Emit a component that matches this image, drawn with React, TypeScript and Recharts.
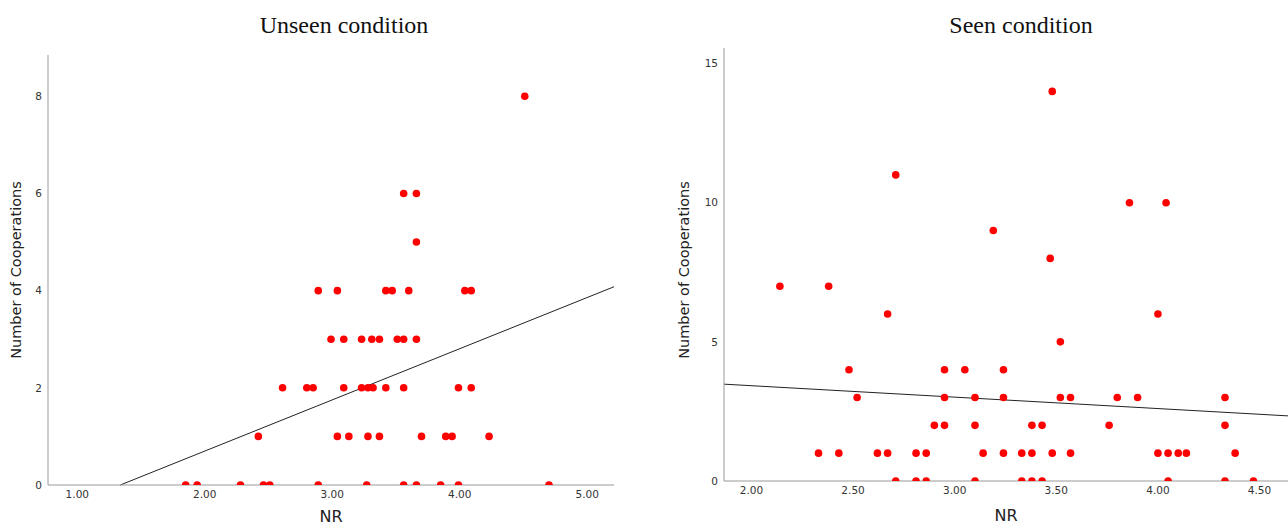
import React from "react";
import {
  ScatterChart,
  Scatter,
  XAxis,
  YAxis,
  ReferenceLine,
} from "recharts";

// Unseen condition: NR score vs number of cooperations
const unseenNR = [
  1.85, 1.94, 2.28, 2.46, 2.51, 2.89, 3.27, 3.56, 3.66, 3.85, 3.99, 4.7,
  2.42, 3.04, 3.13, 3.28, 3.37, 3.7, 3.89, 3.94, 4.23,
  2.61, 2.8, 2.85, 3.09, 3.23, 3.28, 3.32, 3.42, 3.56, 3.99, 4.09,
  2.99, 3.09, 3.23, 3.31, 3.37, 3.51, 3.56, 3.66,
  2.89, 3.04, 3.42, 3.47, 3.6, 4.04, 4.09,
  3.66,
  3.56, 3.66,
  4.51,
];
const unseenCoop = [
  0, 0, 0, 0, 0, 0, 0, 0, 0, 0, 0, 0,
  1, 1, 1, 1, 1, 1, 1, 1, 1,
  2, 2, 2, 2, 2, 2, 2, 2, 2, 2, 2,
  3, 3, 3, 3, 3, 3, 3, 3,
  4, 4, 4, 4, 4, 4, 4,
  5,
  6, 6,
  8,
];
const unseenFitX = [1.337, 5.21];
const unseenFitY = [0, 4.08];
const unseenXTicks = [1, 2, 3, 4, 5];
const unseenYTicks = [0, 2, 4, 6, 8];

// Seen condition
const seenNR = [
  2.71, 2.81, 2.86, 3.1, 3.33, 3.38, 3.43, 4.05, 4.33, 4.47,
  2.33, 2.43, 2.62, 2.67, 2.81, 2.86, 3.14, 3.24, 3.33, 3.38, 3.48, 3.57, 4.0, 4.05, 4.1, 4.14, 4.38,
  2.9, 2.95, 3.1, 3.38, 3.43, 3.76, 4.33,
  2.52, 2.95, 3.1, 3.24, 3.52, 3.57, 3.8, 3.9, 4.33,
  2.48, 2.95, 3.05, 3.24,
  3.52,
  2.67, 4.0,
  2.14, 2.38,
  3.47,
  3.19,
  3.86, 4.04,
  2.71,
  3.48,
];
const seenCoop = [
  0, 0, 0, 0, 0, 0, 0, 0, 0, 0,
  1, 1, 1, 1, 1, 1, 1, 1, 1, 1, 1, 1, 1, 1, 1, 1, 1,
  2, 2, 2, 2, 2, 2, 2,
  3, 3, 3, 3, 3, 3, 3, 3, 3,
  4, 4, 4, 4,
  5,
  6, 6,
  7, 7,
  8,
  9,
  10, 10,
  11,
  14,
];
const seenFitX = [1.865, 4.64];
const seenFitY = [3.48, 2.34];
const seenXTicks = [2, 2.5, 3, 3.5, 4, 4.5];
const seenYTicks = [0, 5, 10, 15];

const toPoints = (xs: number[], ys: number[]) =>
  xs.map((x, i) => ({ nr: x, coop: ys[i] }));

const tickStyle = { fontSize: 10.5, fill: "#333", fontFamily: "DejaVu Sans" };
const axisStroke = "#999";

const Dot = (props: any) => (
  <circle cx={props.cx} cy={props.cy} r={3.8} fill="#ff0000" />
);

const labelFont: React.CSSProperties = {
  position: "absolute",
  fontFamily: "DejaVu Sans",
  fontSize: 14.5,
  color: "#222",
  whiteSpace: "nowrap",
};

const titleFont: React.CSSProperties = {
  position: "absolute",
  fontFamily: "Liberation Serif",
  fontSize: 24,
  color: "#111",
  whiteSpace: "nowrap",
  transform: "translate(-50%, -50%)",
};

export default function App() {
  const unseen = toPoints(unseenNR, unseenCoop);
  const seen = toPoints(seenNR, seenCoop);

  return (
    <div style={{ position: "absolute", left: 0, top: 0, width: 1288, height: 531, background: "#fff" }}>
      <div style={{ ...titleFont, left: 344, top: 25 }}>Unseen condition</div>
      <div style={{ ...titleFont, left: 1021, top: 25 }}>Seen condition</div>

      <div style={{ position: "absolute", left: 0, top: 0 }}>
        <ScatterChart width={640} height={531} margin={{ top: 55, right: 26, bottom: 0, left: 0 }}>
          <XAxis
            type="number"
            dataKey="nr"
            domain={[0.77, 5.21]}
            ticks={unseenXTicks}
            tickFormatter={(v: number) => v.toFixed(2)}
            allowDataOverflow
            height={46}
            tickLine={false}
            tickSize={4}
            tick={tickStyle}
            stroke={axisStroke}
          />
          <YAxis
            type="number"
            dataKey="coop"
            domain={[0, 8.85]}
            ticks={unseenYTicks}
            allowDataOverflow
            width={48}
            tickLine={false}
            tickSize={4}
            tick={tickStyle}
            stroke={axisStroke}
          />
          <ReferenceLine
            segment={[
              { x: unseenFitX[0], y: unseenFitY[0] },
              { x: unseenFitX[1], y: unseenFitY[1] },
            ]}
            stroke="#222"
            strokeWidth={1}
          />
          <Scatter data={unseen} shape={Dot} isAnimationActive={false} />
        </ScatterChart>
      </div>

      <div style={{ position: "absolute", left: 644, top: 0 }}>
        <ScatterChart width={644} height={531} margin={{ top: 48, right: 0, bottom: 0, left: 0 }}>
          <XAxis
            type="number"
            dataKey="nr"
            domain={[1.865, 4.64]}
            ticks={seenXTicks}
            tickFormatter={(v: number) => v.toFixed(2)}
            allowDataOverflow
            height={50}
            tickLine={false}
            tickSize={4}
            tick={tickStyle}
            stroke={axisStroke}
          />
          <YAxis
            type="number"
            dataKey="coop"
            domain={[0, 15.56]}
            ticks={seenYTicks}
            allowDataOverflow
            width={80}
            tickLine={false}
            tickSize={4}
            tick={tickStyle}
            stroke={axisStroke}
          />
          <ReferenceLine
            segment={[
              { x: seenFitX[0], y: seenFitY[0] },
              { x: seenFitX[1], y: seenFitY[1] },
            ]}
            stroke="#222"
            strokeWidth={1}
          />
          <Scatter data={seen} shape={Dot} isAnimationActive={false} />
        </ScatterChart>
      </div>

      <div style={{ ...labelFont, left: 16, top: 270, transform: "translate(-50%, -50%) rotate(-90deg)" }}>
        Number of Cooperations
      </div>
      <div style={{ ...labelFont, left: 684, top: 270, transform: "translate(-50%, -50%) rotate(-90deg)" }}>
        Number of Cooperations
      </div>
      <div style={{ ...labelFont, fontSize: 16, left: 331, top: 516, transform: "translate(-50%, -50%)" }}>NR</div>
      <div style={{ ...labelFont, fontSize: 16, left: 1006, top: 515, transform: "translate(-50%, -50%)" }}>NR</div>
    </div>
  );
}
